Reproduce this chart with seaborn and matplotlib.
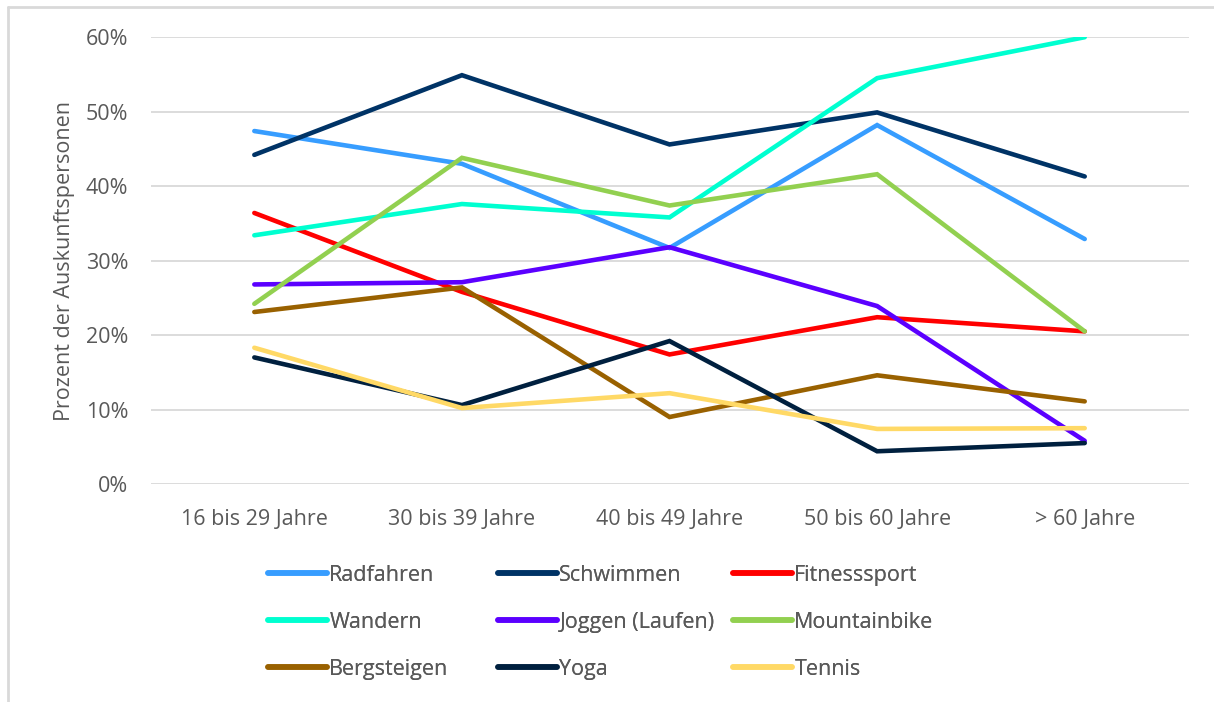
import pandas as pd
import seaborn as sns
import matplotlib.pyplot as plt
from matplotlib.lines import Line2D
from matplotlib.ticker import PercentFormatter

# Daten
altersgruppen = ["16 bis 29 Jahre", "30 bis 39 Jahre", "40 bis 49 Jahre", "50 bis 60 Jahre", "> 60 Jahre"]
radfahren = [47.4, 43.0, 31.7, 48.2, 32.9]
schwimmen = [44.2, 54.9, 45.6, 49.9, 41.3]
fitnesssport = [36.4, 25.8, 17.4, 22.4, 20.5]
wandern = [33.4, 37.6, 35.8, 54.5, 60.0]
joggen = [26.8, 27.1, 31.8, 23.9, 5.8]
mountainbike = [24.2, 43.8, 37.4, 41.6, 20.5]
bergsteigen = [23.1, 26.4, 9.0, 14.6, 11.1]
yoga = [17.0, 10.6, 19.2, 4.4, 5.5]
tennis = [18.3, 10.2, 12.2, 7.4, 7.5]

sportarten = ["Radfahren", "Schwimmen", "Fitnesssport", "Wandern", "Joggen (Laufen)",
              "Mountainbike", "Bergsteigen", "Yoga", "Tennis"]
werte = [radfahren, schwimmen, fitnesssport, wandern, joggen,
         mountainbike, bergsteigen, yoga, tennis]
farben = ["#379DFF", "#003366", "#FF0000", "#00FFD0", "#5B00FF",
          "#92D050", "#996100", "#00203F", "#FFD966"]

rows = []
for sport, vals in zip(sportarten, werte):
    for i, v in enumerate(vals):
        rows.append({"Sport": sport, "pos": i, "Wert": v})
df = pd.DataFrame(rows)

sns.set_theme(style="white")
plt.rcParams["font.family"] = ["Open Sans", "DejaVu Sans"]

grau = "#595959"
fs = 15.5
fig = plt.figure(figsize=(12.14, 7.02), dpi=100)
ax = fig.add_axes([0.124, 0.3105, 0.855, 0.6365])

sns.lineplot(data=df, x="pos", y="Wert", hue="Sport", hue_order=sportarten,
             palette=farben, linewidth=3.3, ax=ax, legend=True,
             solid_capstyle="round", solid_joinstyle="miter")

ax.set_xlim(-0.5, 4.5)
ax.set_ylim(0, 60)
ax.set_yticks(range(0, 61, 10))
ax.yaxis.set_major_formatter(PercentFormatter(decimals=0))
ax.set_xticks(range(len(altersgruppen)))
ax.set_xticklabels(altersgruppen)
ax.tick_params(axis="both", colors=grau, labelsize=fs, length=0)
ax.tick_params(axis="x", pad=18)
ax.tick_params(axis="y", pad=16)
ax.grid(axis="y", color="#d9d9d9", linewidth=1.3)
ax.set_axisbelow(True)
for s in ax.spines.values():
    s.set_visible(False)
ax.set_xlabel("")
ax.set_ylabel("Prozent der Auskunftspersonen", color=grau, fontsize=fs, labelpad=8)

handles, labels = ax.get_legend_handles_labels()
ax.get_legend().remove()
for h in handles:
    h.set_linewidth(4)
    h.set_solid_capstyle("round")

# drei Legendenspalten, zeilenweise gefüllt
spalten_x = [268, 498, 733]
for c, x in enumerate(spalten_x):
    idx = [c, c + 3, c + 6]
    leg = fig.legend([handles[i] for i in idx], [labels[i] for i in idx],
                     loc="upper left", bbox_to_anchor=(x / 1214, 1 - 565 / 702),
                     frameon=False, fontsize=fs, labelcolor=grau, handlelength=2.75,
                     handletextpad=0.1, labelspacing=1.2, borderpad=0, borderaxespad=0)
    fig.add_artist(leg)

# Rahmen oben und links
fig.add_artist(Line2D([0.0065, 0.0065], [0, 0.99], transform=fig.transFigure,
                      color="#d9d9d9", linewidth=2))
fig.add_artist(Line2D([0.0065, 1], [0.99, 0.99], transform=fig.transFigure,
                      color="#d9d9d9", linewidth=2))

fig.savefig("out.png", dpi=100)
